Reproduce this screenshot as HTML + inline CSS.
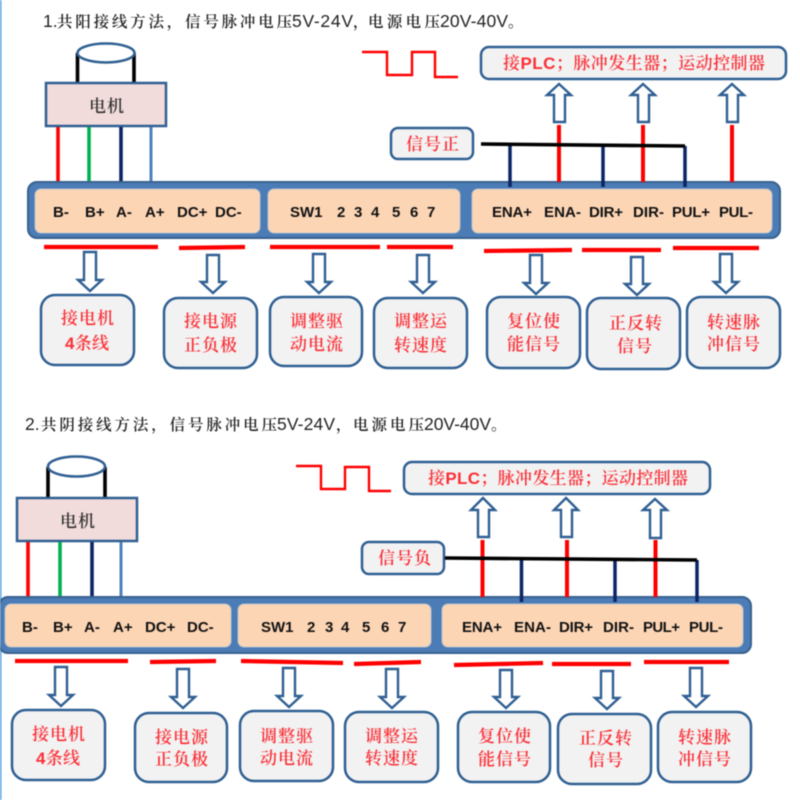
<!DOCTYPE html>
<html lang="zh"><head><meta charset="utf-8"><title>接线图</title>
<style>
html,body{margin:0;padding:0;background:#fff;width:800px;height:800px;overflow:hidden}
svg{display:block;filter:blur(.5px)}
text{font-family:"Liberation Serif","Noto Serif CJK SC",serif}
.t{font-size:15.5px;fill:#222;font-weight:600}
.l{font-family:"Liberation Sans","Noto Sans CJK SC",sans-serif;font-size:17.5px;fill:#222}
.b{font-size:17px;fill:#fb2f36;font-weight:600}
.lb{font-family:"Liberation Sans",sans-serif;font-weight:700}
.m{font-size:17px;fill:#333;font-weight:600}
.n{font-family:"Liberation Sans",sans-serif;font-weight:700;font-size:15px;fill:#111}
.bar{fill:#4c7cb5;stroke:#37628f;stroke-width:2}
.p{fill:#fcd5b5;stroke:#b9c4cc;stroke-width:1}
.box{fill:#f2f2f2;stroke:#2f5f92;stroke-width:2.5}
.ar{fill:#fff;stroke:#2f5f92;stroke-width:2.4;stroke-linejoin:miter}
.r{stroke:#fe0000;stroke-width:4;fill:none}
.u{stroke:#fe0000;stroke-width:4.2;fill:none}
.nv{stroke:#0b2566;stroke-width:3.5;fill:none}
.k{stroke:#000;stroke-width:3.6;fill:none}
.pulse{stroke:#fe0000;stroke-width:2.4;fill:none}
</style></head><body>
<svg width="800" height="800" viewBox="0 0 800 800" xmlns="http://www.w3.org/2000/svg">
<rect width="800" height="800" fill="#fff"/>
<rect x="0" y="0" width="1.5" height="800" fill="#5aa5e6"/>

<!-- Block 1 -->
<text class="l" x="43" y="27">1.</text>
<text class="t" x="57" y="27" textLength="235">共阳接线方法，信号脉冲电压</text>
<text class="l" x="292" y="27" textLength="61">5V-24V</text>
<text class="t" x="353" y="27">，</text>
<text class="t" x="368" y="27" textLength="72">电源电压</text>
<text class="l" x="440" y="27" textLength="68">20V-40V</text>
<text class="t" x="508" y="27">。</text>

<path class="k" d="M77.5 53V86M134 53V86"/>
<ellipse cx="106" cy="53" rx="28.5" ry="9.5" fill="#fff" stroke="#2f5f92" stroke-width="2.5"/>
<rect x="46" y="83" width="120" height="43" fill="#f2dcdb" stroke="#2f5f92" stroke-width="2.5"/>
<text class="m" x="89" y="112" textLength="35">电机</text>
<path d="M58 127V182" stroke="#fe0000" stroke-width="3.6"/>
<path d="M89 127V182" stroke="#00b050" stroke-width="3.6"/>
<path d="M121 127V182" stroke="#0b2566" stroke-width="3.6"/>
<path d="M151 127V182" stroke="#4f81bd" stroke-width="3"/>

<path class="pulse" d="M362 52H387V75H412V52H435V77H458"/>
<rect x="481" y="47" width="305" height="32" rx="8" class="box"/>
<text class="b" x="503" y="69" textLength="262">接<tspan class="lb">PLC</tspan>；脉冲发生器；运动控制器</text>
<path class="ar" d="M559 84L571 95H565V122H554V95H547Z"/>
<path class="ar" d="M643 84L655 95H649V122H638V95H631Z"/>
<path class="ar" d="M732 84L744 95H738V122H727V95H720Z"/>

<rect x="391" y="128" width="82" height="31" rx="7" class="box"/>
<text class="b" x="406" y="150" textLength="53">信号正</text>

<rect x="28" y="182" width="752" height="56" rx="9" class="bar"/>
<rect x="35" y="189" width="225" height="44" rx="6" class="p"/>
<rect x="268" y="189" width="192" height="44" rx="6" class="p"/>
<rect x="472" y="189" width="300" height="44" rx="6" class="p"/>

<path class="r" d="M559 125V182M643 125V182M732 125V182"/>
<path class="nv" d="M510 145V187M603 145V187M685 146V187"/>
<path class="k" d="M481 144L685 146"/>

<text class="n" x="53" y="217">B-</text><text class="n" x="85" y="217">B+</text><text class="n" x="116" y="217">A-</text><text class="n" x="145" y="217">A+</text><text class="n" x="177" y="217">DC+</text><text class="n" x="215" y="217">DC-</text>
<text class="n" x="290" y="217">SW1</text><text class="n" x="337" y="217">2</text><text class="n" x="354" y="217">3</text><text class="n" x="371" y="217">4</text><text class="n" x="392" y="217">5</text><text class="n" x="410" y="217">6</text><text class="n" x="427" y="217">7</text>
<text class="n" x="492" y="217" textLength="40">ENA+</text><text class="n" x="544" y="217" textLength="37">ENA-</text><text class="n" x="589" y="217" textLength="34">DIR+</text><text class="n" x="633" y="217" textLength="31">DIR-</text><text class="n" x="672" y="217" textLength="38">PUL+</text><text class="n" x="719" y="217" textLength="34">PUL-</text>

<path class="u" d="M44 247H158M179 248L245 247M270 247H380M387 247H453M484 251L572 250M582 250H661M673 248H759"/>

<path class="ar" d="M84 252H96V280H102L90 291L78 280H84Z"/>
<path class="ar" d="M207 255H219V282H225L213 293L201 282H207Z"/>
<path class="ar" d="M313 254H325V282H331L319 293L307 282H313Z"/>
<path class="ar" d="M417 255H429V282H435L423 293L411 282H417Z"/>
<path class="ar" d="M530 255H542V283H548L536 294L524 283H530Z"/>
<path class="ar" d="M631 257H643V284H649L637 295L625 284H631Z"/>
<path class="ar" d="M720 254H732V282H738L726 293L714 282H720Z"/>

<rect x="41" y="295" width="93" height="70" rx="14" class="box"/>
<rect x="164" y="298" width="93" height="70" rx="14" class="box"/>
<rect x="270" y="297" width="92" height="69" rx="14" class="box"/>
<rect x="374" y="298" width="93" height="70" rx="14" class="box"/>
<rect x="487" y="297" width="93" height="71" rx="14" class="box"/>
<rect x="587" y="298" width="93" height="71" rx="14" class="box"/>
<rect x="687" y="297" width="93" height="71" rx="14" class="box"/>

<text class="b" x="61" y="324" textLength="53">接电机</text><text class="b" x="65" y="349" textLength="44"><tspan class="lb">4</tspan>条线</text>
<text class="b" x="184" y="327" textLength="53">接电源</text><text class="b" x="184" y="351" textLength="53">正负极</text>
<text class="b" x="290" y="327" textLength="53">调整驱</text><text class="b" x="290" y="350" textLength="53">动电流</text>
<text class="b" x="394" y="327" textLength="53">调整运</text><text class="b" x="394" y="351" textLength="53">转速度</text>
<text class="b" x="507" y="327" textLength="53">复位使</text><text class="b" x="507" y="350" textLength="53">能信号</text>
<text class="b" x="609" y="329" textLength="53">正反转</text><text class="b" x="617" y="352" textLength="35">信号</text>
<text class="b" x="707" y="328" textLength="53">转速脉</text><text class="b" x="707" y="350" textLength="53">冲信号</text>

<!-- Block 2 -->
<text class="l" x="25" y="430">2.</text>
<text class="t" x="41" y="430" textLength="236">共阴接线方法，信号脉冲电压</text>
<text class="l" x="277" y="430" textLength="58">5V-24V</text>
<text class="t" x="336" y="430">，</text>
<text class="t" x="353" y="430" textLength="71">电源电压</text>
<text class="l" x="424" y="430" textLength="67">20V-40V</text>
<text class="t" x="491" y="430">。</text>

<path class="k" d="M48 467V500M105 467V500"/>
<ellipse cx="76.500" cy="466.500" rx="28.500" ry="10" fill="#fff" stroke="#2f5f92" stroke-width="2.5"/>
<rect x="17" y="498" width="120" height="43" fill="#f2dcdb" stroke="#2f5f92" stroke-width="2.5"/>
<text class="m" x="60" y="527" textLength="35">电机</text>
<path d="M28 542V597" stroke="#fe0000" stroke-width="3.6"/>
<path d="M60 542V597" stroke="#00b050" stroke-width="3.6"/>
<path d="M92 542V597" stroke="#0b2566" stroke-width="3.6"/>
<path d="M121 542V597" stroke="#4f81bd" stroke-width="3"/>

<path class="pulse" d="M296 466H321V489H345V467H369V491H391"/>
<rect x="404" y="462" width="306" height="32" rx="8" class="box"/>
<text class="b" x="428" y="484" textLength="260">接<tspan class="lb">PLC</tspan>；脉冲发生器；运动控制器</text>
<path class="ar" d="M483 498L495 510H489V537H478V510H471Z"/>
<path class="ar" d="M566 498L578 510H572V537H561V510H554Z"/>
<path class="ar" d="M655 499L667 510H661V538H650V510H643Z"/>

<rect x="362" y="542" width="82" height="32" rx="7" class="box"/>
<text class="b" x="378" y="564" textLength="53">信号负</text>

<rect x="-1" y="597" width="752" height="56" rx="9" class="bar"/>
<rect x="5" y="604" width="226" height="43" rx="6" class="p"/>
<rect x="238" y="604" width="193" height="43" rx="6" class="p"/>
<rect x="442" y="604" width="301" height="43" rx="6" class="p"/>

<path class="r" d="M482.500 540V597M567 540V597M655.500 540V597"/>
<path class="nv" d="M521.500 560V602M615 560V602M697 560V602"/>
<path class="k" d="M445 558L697 560"/>

<text class="n" x="22" y="632">B-</text><text class="n" x="53" y="632">B+</text><text class="n" x="84" y="632">A-</text><text class="n" x="113" y="632">A+</text><text class="n" x="145" y="632">DC+</text><text class="n" x="187" y="632">DC-</text>
<text class="n" x="261" y="632">SW1</text><text class="n" x="307" y="632">2</text><text class="n" x="325" y="632">3</text><text class="n" x="341" y="632">4</text><text class="n" x="362" y="632">5</text><text class="n" x="381" y="632">6</text><text class="n" x="398" y="632">7</text>
<text class="n" x="462" y="632" textLength="40">ENA+</text><text class="n" x="514" y="632" textLength="37">ENA-</text><text class="n" x="559" y="632" textLength="34">DIR+</text><text class="n" x="603" y="632" textLength="31">DIR-</text><text class="n" x="643" y="632" textLength="37">PUL+</text><text class="n" x="689" y="632" textLength="34">PUL-</text>

<path class="u" d="M15 661H128M150 662L216 661M241 661L343 663M354 664L421 662M454 665L543 663M552 664H631M644 662H729"/>

<path class="ar" d="M55 667H67V695H73L61 706L49 695H55Z"/>
<path class="ar" d="M177 669H189V697H195L183 708L171 697H177Z"/>
<path class="ar" d="M283 668H295V696H301L289 707L277 696H283Z"/>
<path class="ar" d="M386 669H398V697H404L392 708L380 697H386Z"/>
<path class="ar" d="M500 670H512V697H518L506 708L494 697H500Z"/>
<path class="ar" d="M601 671H613V698H619L607 709L595 698H601Z"/>
<path class="ar" d="M690 668H702V696H708L696 707L684 696H690Z"/>

<rect x="12" y="710" width="93" height="70" rx="14" class="box"/>
<rect x="135" y="713" width="92" height="69" rx="14" class="box"/>
<rect x="240" y="711" width="93" height="70" rx="14" class="box"/>
<rect x="345" y="712" width="93" height="70" rx="14" class="box"/>
<rect x="458" y="712" width="92" height="70" rx="14" class="box"/>
<rect x="558" y="714" width="93" height="70" rx="14" class="box"/>
<rect x="658" y="712" width="93" height="70" rx="14" class="box"/>

<text class="b" x="32" y="740" textLength="53">接电机</text><text class="b" x="36" y="764" textLength="44"><tspan class="lb">4</tspan>条线</text>
<text class="b" x="155" y="743" textLength="53">接电源</text><text class="b" x="155" y="765" textLength="53">正负极</text>
<text class="b" x="260" y="742" textLength="53">调整驱</text><text class="b" x="260" y="764" textLength="53">动电流</text>
<text class="b" x="365" y="742" textLength="53">调整运</text><text class="b" x="365" y="764" textLength="53">转速度</text>
<text class="b" x="478" y="742" textLength="53">复位使</text><text class="b" x="478" y="765" textLength="53">能信号</text>
<text class="b" x="579" y="744" textLength="53">正反转</text><text class="b" x="588" y="766" textLength="35">信号</text>
<text class="b" x="678" y="743" textLength="53">转速脉</text><text class="b" x="678" y="765" textLength="53">冲信号</text>
</svg>
</body></html>
